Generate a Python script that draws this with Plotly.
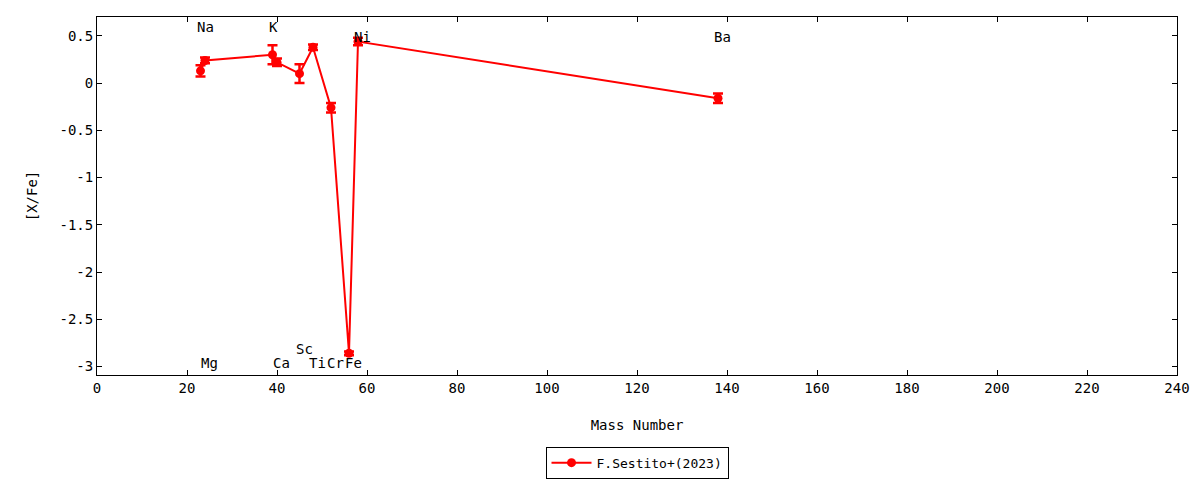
import plotly.graph_objects as go

# Data
elements = ["Na", "Mg", "K", "Ca", "Sc", "Ti", "Cr", "Fe", "Ni", "Ba"]
mass_number = [23, 24, 39, 40, 45, 48, 52, 56, 58, 138]
x_fe = [0.13, 0.24, 0.30, 0.22, 0.10, 0.38, -0.26, -2.86, 0.44, -0.16]
x_fe_err = [0.06, 0.03, 0.10, 0.04, 0.10, 0.03, 0.05, 0.02, 0.04, 0.05]
label_y = [0.59, -2.96, 0.59, -2.96, -2.81, -2.96, -2.96, -2.96, 0.49, 0.49]

x_ticks = list(range(0, 241, 20))
y_ticks = [0.5, 0, -0.5, -1, -1.5, -2, -2.5, -3]
y_tick_text = ["0.5", "0", "-0.5", "-1", "-1.5", "-2", "-2.5", "-3"]

FONT = "DejaVu Sans Mono"

fig = go.Figure()
fig.add_trace(go.Scatter(
    x=mass_number, y=x_fe,
    mode="lines+markers",
    name="F.Sestito+(2023)",
    line=dict(color="#ff0000", width=2),
    marker=dict(color="#ff0000", size=9, symbol="circle"),
    error_y=dict(type="data", array=x_fe_err, visible=True,
                 color="#ff0000", thickness=2.5, width=5),
))

for el, m, ly in zip(elements, mass_number, label_y):
    fig.add_annotation(x=m, y=ly, text=el, showarrow=False,
                       xanchor="left", yanchor="middle", xshift=-6,
                       font=dict(family=FONT, size=14, color="black"))

axis_common = dict(
    showline=True, linecolor="black", linewidth=1, mirror="ticks",
    ticks="inside", ticklen=5, tickcolor="black", tickwidth=1,
    showgrid=False, zeroline=False, automargin=False,
    tickfont=dict(family=FONT, size=14, color="black"),
)

fig.update_layout(
    width=1200, height=480,
    paper_bgcolor="white", plot_bgcolor="white",
    margin=dict(l=97, r=23, t=17, b=105, autoexpand=False),
    font=dict(family=FONT, size=14, color="black"),
    xaxis=dict(range=[0, 240], tickvals=x_ticks,
               title=dict(text="Mass Number", standoff=25,
                          font=dict(family=FONT, size=14)),
               **axis_common),
    yaxis=dict(range=[-3.09, 0.7], tickvals=y_ticks, ticktext=y_tick_text,
               title=dict(text="[X/Fe]", standoff=18,
                          font=dict(family=FONT, size=14)),
               **axis_common),
    showlegend=True,
    legend=dict(x=0.5, xanchor="center", y=-0.245, yanchor="middle",
                bordercolor="black", borderwidth=1, bgcolor="white",
                font=dict(family=FONT, size=13),
                itemwidth=40, tracegroupgap=0),
)

fig.write_html("out.html", config={"displayModeBar": False},
               post_script="document.body.style.margin='0';document.body.style.padding='0';")
